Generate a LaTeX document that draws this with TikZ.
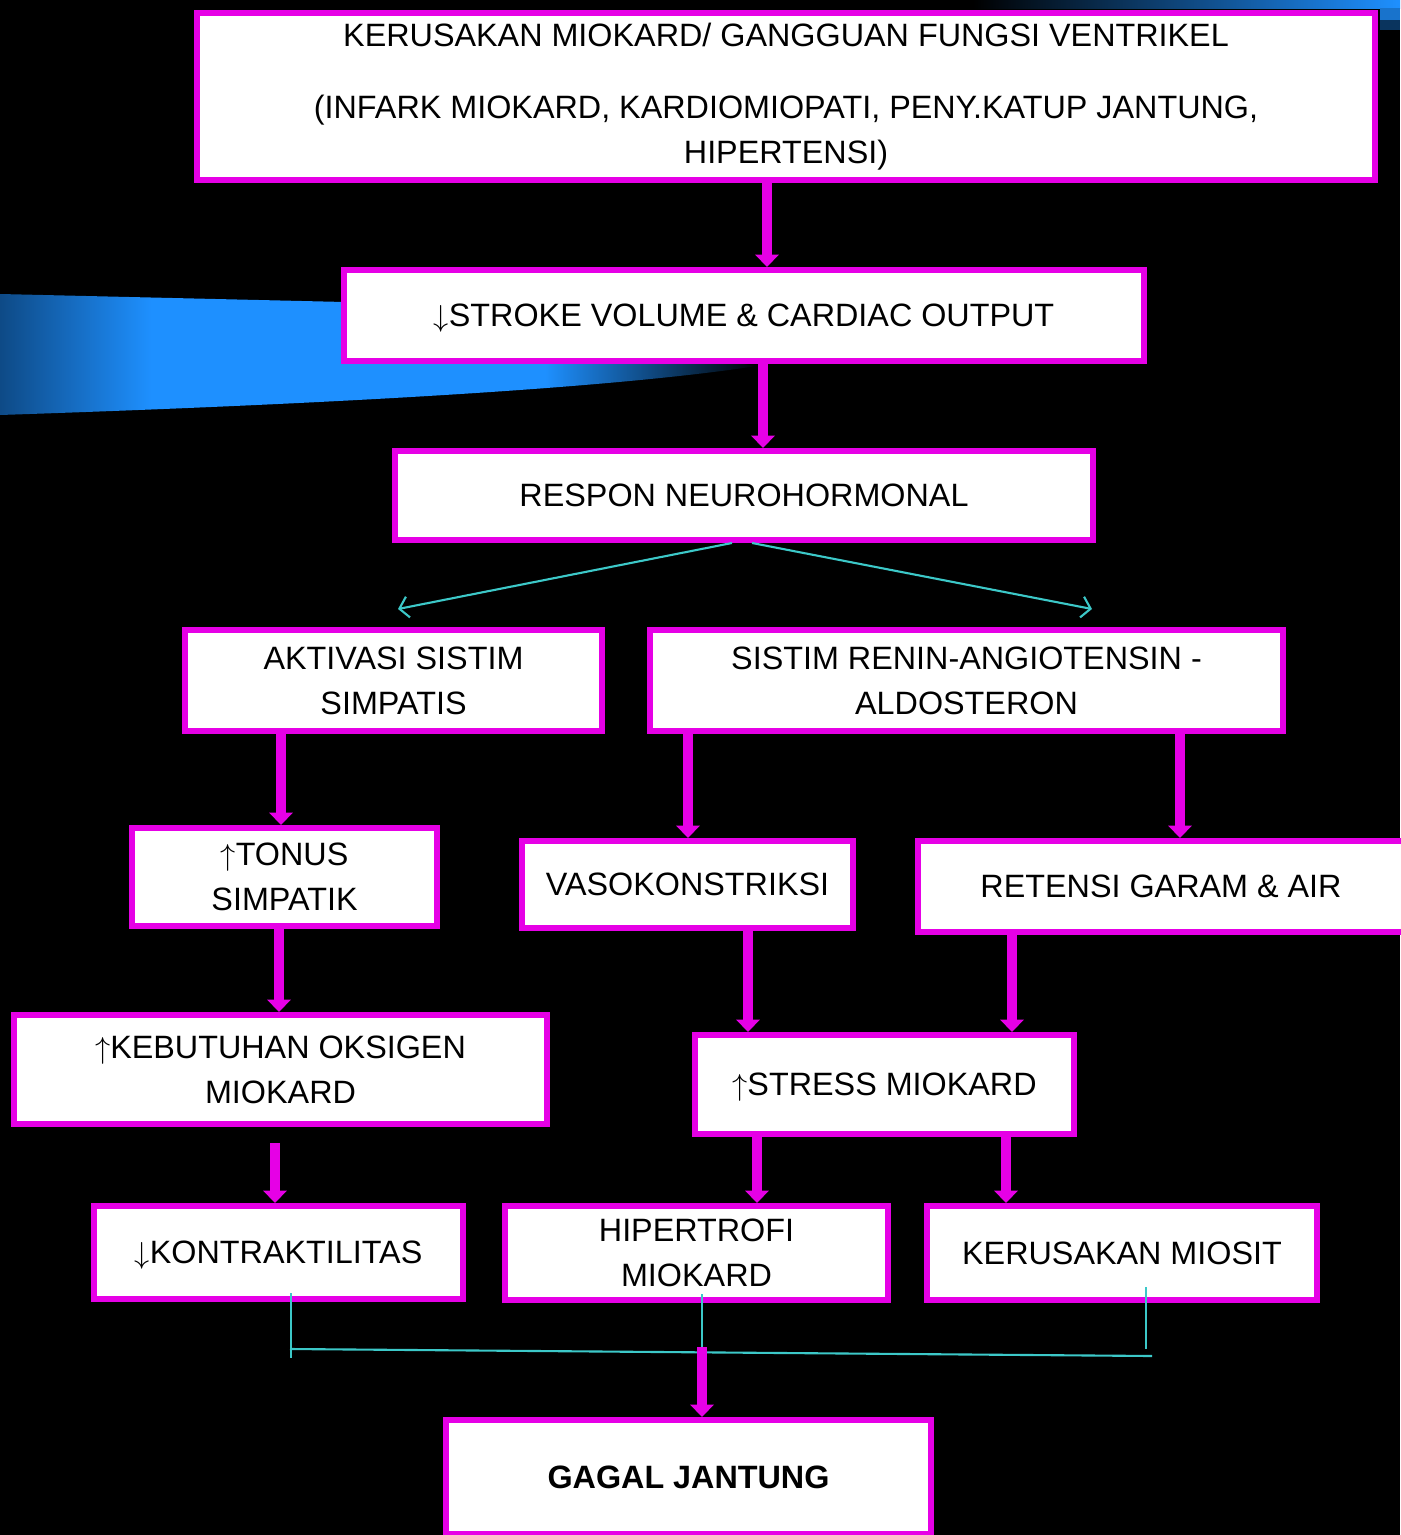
\documentclass[tikz,border=0pt]{standalone}
\usepackage{fontspec}
\setmainfont{Liberation Sans}
\usetikzlibrary{arrows.meta,calc}
\definecolor{Magenta}{HTML}{E600E6}
\definecolor{Cyan}{HTML}{3CC8C8}
\definecolor{Azure}{HTML}{1E90FF}
\definecolor{Navy}{HTML}{0E4A86}
\pgfdeclarehorizontalshading{swoosh}{100bp}{color(0bp)=(Navy); color(25bp)=(Navy);
  color(35bp)=(Azure); color(61bp)=(Azure); color(75bp)=(black); color(100bp)=(black)}
\newcommand{\turun}{\smash{$\downarrow$}}
\newcommand{\naik}{\smash{$\uparrow$}}

\begin{document}
\begin{tikzpicture}[x=0.02cm,y=-0.02cm,
  box/.style={draw=Magenta,line width=3.4pt,fill=white,align=center,inner sep=2pt,
    font=\fontsize{18.4}{25.5}\selectfont},
  flow/.style={draw=Magenta,line width=5.7pt,-{Triangle[width=13pt,length=7pt]}},
  link/.style={draw=Cyan,line width=1.2pt},
  split/.style={link,-{Straight Barb[length=5pt,width=12pt]}}]
  \useasboundingbox (0,0) rectangle (1400,1535);
  \fill[black] (0,0) rectangle (1400,1535);
  % background swoosh and top band
  \shade[shading=swoosh]
    (0,294) -- (345,302) -- (757,366) .. controls (600,390) and (300,405) .. (0,415) -- cycle;
  \shade[left color=black,right color=Azure] (973,0) rectangle (1400,8);
  \fill[Azure!80!black] (1380,8) rectangle (1400,20);
  \fill[Navy!70!black] (1380,20) rectangle (1400,30);

  % boxes
  \node[box,minimum width=23.56cm,minimum height=3.34cm] (damage) at (786,96.5)
    {KERUSAKAN MIOKARD/ GANGGUAN FUNGSI VENTRIKEL\\[16pt]
     (INFARK MIOKARD, KARDIOMIOPATI, PENY.KATUP JANTUNG,\\ HIPERTENSI)};
  \node[box,minimum width=16cm,minimum height=1.82cm] (output) at (744,315.5)
    {\turun STROKE VOLUME \& CARDIAC OUTPUT};
  \node[box,minimum width=13.96cm,minimum height=1.78cm] (respon) at (744,495.5)
    {RESPON NEUROHORMONAL};
  \node[box,minimum width=8.34cm,minimum height=2.02cm] (simpatis) at (393.5,680.5)
    {AKTIVASI SISTIM\\SIMPATIS};
  \node[box,minimum width=12.66cm,minimum height=2.02cm] (raas) at (966.5,680.5)
    {SISTIM RENIN-ANGIOTENSIN -\\ALDOSTERON};
  \node[box,minimum width=6.1cm,minimum height=1.96cm] (tonus) at (284.5,877)
    {\naik TONUS\\SIMPATIK};
  \node[box,minimum width=6.62cm,minimum height=1.74cm] (vaso) at (687.5,884.5)
    {VASOKONSTRIKSI};
  \node[box,minimum width=9.72cm,minimum height=1.82cm] (retensi) at (1161,886.5)
    {RETENSI GARAM \& AIR};
  \node[box,minimum width=10.66cm,minimum height=2.18cm] (oksigen) at (280.5,1069.5)
    {\naik KEBUTUHAN OKSIGEN\\MIOKARD};
  \node[box,minimum width=7.58cm,minimum height=1.98cm] (stress) at (884.5,1084.5)
    {\naik STRESS MIOKARD};
  \node[box,minimum width=7.38cm,minimum height=1.86cm] (kontraktil) at (278.5,1252.5)
    {\turun KONTRAKTILITAS};
  \node[box,minimum width=7.66cm,minimum height=1.88cm] (hipertrofi) at (696.5,1253)
    {HIPERTROFI\\MIOKARD};
  \node[box,minimum width=7.8cm,minimum height=1.88cm] (miosit) at (1122,1253)
    {KERUSAKAN MIOSIT};
  \node[box,minimum width=9.7cm,minimum height=2.28cm,font=\fontsize{18.4}{25.5}\selectfont\bfseries]
    (gagal) at (688.5,1477) {GAGAL JANTUNG};

  % magenta arrows
  \draw[flow] (damage.south -| 767,0) -- (output.north -| 767,0);
  \draw[flow] (output.south -| 763,0) -- (respon.north -| 763,0);
  \draw[flow] (simpatis.south -| 281,0) -- (tonus.north -| 281,0);
  \draw[flow] (raas.south -| 688,0) -- (vaso.north -| 688,0);
  \draw[flow] (raas.south -| 1180,0) -- (retensi.north -| 1180,0);
  \draw[flow] (tonus.south -| 279,0) -- (oksigen.north -| 279,0);
  \draw[flow] (vaso.south -| 748,0) -- (stress.north -| 748,0);
  \draw[flow] (retensi.south -| 1012,0) -- (stress.north -| 1012,0);
  \draw[flow,shorten <=9pt] (oksigen.south -| 275,0) -- (kontraktil.north -| 275,0);
  \draw[flow] (stress.south -| 757,0) -- (hipertrofi.north -| 757,0);
  \draw[flow] (stress.south -| 1006,0) -- (miosit.north -| 1006,0);

  % cyan split from respon
  \coordinate (simpatis tip) at (398,609);
  \coordinate (raas tip) at (1092,609);
  \draw[split] (respon.south -| 732,0) -- (simpatis tip);
  \draw[split] (respon.south -| 752,0) -- (raas tip);

  % cyan bridge to gagal
  \coordinate (bridge west) at (290,1349);
  \coordinate (bridge east) at (1152,1356);
  \coordinate (kontraktil foot) at (291,1358);
  \coordinate (hipertrofi foot) at (702,1347);
  \coordinate (miosit foot) at (1146,1349);
  \draw[link] (bridge west) -- (bridge east);
  \draw[link,shorten <=-5pt] (kontraktil.south -| kontraktil foot) -- (kontraktil foot);
  \draw[link,shorten <=-5pt] (hipertrofi.south -| hipertrofi foot) -- (hipertrofi foot);
  \draw[link,shorten <=-9pt] (miosit.south -| miosit foot) -- (miosit foot);
  \draw[flow] (hipertrofi foot) -- (gagal.north -| hipertrofi foot);
\end{tikzpicture}
\end{document}
